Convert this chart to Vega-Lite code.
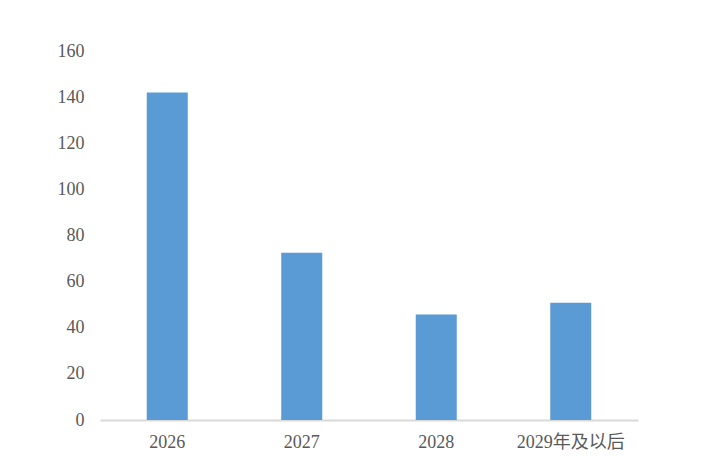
{
  "$schema": "https://vega.github.io/schema/vega-lite/v6.json",
  "width": 538,
  "height": 369,
  "autosize": {"type": "none"},
  "padding": {"left": 100, "top": 51, "right": 66, "bottom": 55},
  "background": "white",
  "config": {"view": {"stroke": null}},
  "data": {
    "values": [
      {"year": "2026", "value": 142},
      {"year": "2027", "value": 72.5},
      {"year": "2028", "value": 45.7},
      {"year": "2029年及以后", "value": 50.8}
    ]
  },
  "mark": {"type": "bar", "color": "#5B9BD5"},
  "encoding": {
    "x": {
      "field": "year",
      "type": "nominal",
      "sort": null,
      "title": null,
      "scale": {"paddingInner": 0.695, "paddingOuter": 0.3475},
      "axis": {
        "labelAngle": 0,
        "ticks": false,
        "domainColor": "#D9D9D9",
        "domainWidth": 2,
        "labelFont": "'Liberation Serif', 'Noto Sans CJK SC', serif",
        "labelFontSize": 18,
        "labelColor": "#595959",
        "labelPadding": 13
      }
    },
    "y": {
      "field": "value",
      "type": "quantitative",
      "title": null,
      "scale": {"domain": [0, 160], "nice": false},
      "axis": {
        "values": [0, 20, 40, 60, 80, 100, 120, 140, 160],
        "domain": false,
        "ticks": false,
        "grid": false,
        "labelFont": "Liberation Serif",
        "labelFontSize": 18,
        "labelColor": "#595959",
        "labelPadding": 16
      }
    }
  }
}
